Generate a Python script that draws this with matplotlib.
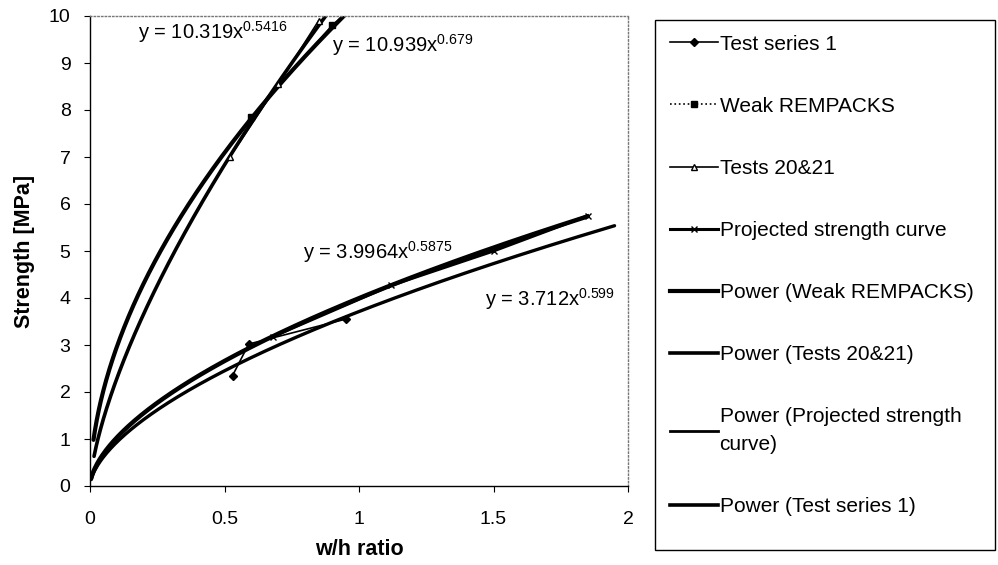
import numpy as np
import matplotlib
matplotlib.use('Agg')
import matplotlib.pyplot as plt
from matplotlib.lines import Line2D
from matplotlib.patches import Rectangle

plt.rcParams['font.family'] = ['Liberation Sans', 'DejaVu Sans']
plt.rcParams['mathtext.fontset'] = 'custom'
plt.rcParams['mathtext.rm'] = 'Liberation Sans'

# measured points
ts1_x = [0.53, 0.59, 0.95]
ts1_y = [2.35, 3.02, 3.55]
weak_x = [0.6, 0.9, 1.2]
weak_y = [7.85, 9.8, 11.3]
t2021_x = [0.52, 0.7, 0.85]
t2021_y = [7.0, 8.55, 9.9]
proj_x = [0.68, 1.12, 1.5, 1.85]
proj_y = [3.18, 4.27, 5.0, 5.75]

# power trend lines: coefficient, exponent, x start, x end
trend_weak = (10.319, 0.5416, 0.013, 1.0)
trend_2021 = (10.939, 0.679, 0.015, 1.0)
trend_proj = (3.9964, 0.5875, 0.004, 1.85)
trend_ts1 = (3.712, 0.599, 0.004, 1.95)

labels = ['Test series 1', 'Weak REMPACKS', 'Tests 20&21', 'Projected strength curve',
          'Power (Weak REMPACKS)', 'Power (Tests 20&21)',
          'Power (Projected strength\ncurve)', 'Power (Test series 1)']

fig = plt.figure(figsize=(9.98, 5.65), dpi=100)
ax = fig.add_axes([90 / 998, 1 - 486 / 565, 538 / 998, 470 / 565])

def trend(t, lw):
    a, b, x0, x1 = t
    x = np.linspace(x0, x1, 400)
    ax.plot(x, a * x ** b, color='black', lw=lw, solid_capstyle='round')

trend(trend_weak, 3.0)
trend(trend_2021, 2.6)
trend(trend_proj, 3.2)
trend(trend_ts1, 2.4)

ax.plot(ts1_x, ts1_y, color='black', lw=1.2, marker='D', ms=4.5)
ax.plot(weak_x, weak_y, color='black', lw=1.2, marker='s', ms=4.5)
ax.plot(t2021_x, t2021_y, color='black', lw=1.2, marker='^', ms=4.5, mfc='white')
ax.plot(proj_x, proj_y, color='black', lw=2.2, marker='x', ms=4.5)

fs = 14.5
ax.text(0.178, 9.66, 'y = 10.319x$^{0.5416}$', fontsize=fs, ha='left', va='center')
ax.text(0.90, 9.38, 'y = 10.939x$^{0.679}$', fontsize=fs, ha='left', va='center')
ax.text(0.79, 4.98, 'y = 3.9964x$^{0.5875}$', fontsize=fs, ha='left', va='center')
ax.text(1.47, 3.98, 'y = 3.712x$^{0.599}$', fontsize=fs, ha='left', va='center')

ax.set_xlim(0, 2)
ax.set_ylim(0, 10)
ax.set_xticks(np.arange(0, 2.01, 0.5))
ax.set_xticklabels(['0', '0.5', '1', '1.5', '2'])
ax.set_yticks(np.arange(0, 11, 1))
ax.tick_params(labelsize=14, direction='out', length=4, width=0.8)
ax.tick_params(axis='x', pad=14)
ax.tick_params(axis='y', pad=10)
ax.set_xlabel('w/h ratio', fontsize=15.5, fontweight='bold', labelpad=8)
ax.set_ylabel('Strength [MPa]', fontsize=15.5, fontweight='bold', labelpad=10)
for s in ['top', 'right']:
    ax.spines[s].set_color('#777777')
    ax.spines[s].set_linestyle(':')
    ax.spines[s].set_linewidth(1.0)
for s in ['left', 'bottom']:
    ax.spines[s].set_linewidth(1.0)

handles = [
    Line2D([], [], color='black', lw=1.2, marker='D', ms=4.5),
    Line2D([], [], color='black', lw=1.2, ls=':', marker='s', ms=4.5),
    Line2D([], [], color='black', lw=1.2, marker='^', ms=4.5, mfc='white'),
    Line2D([], [], color='black', lw=2.2, marker='x', ms=4.5),
    Line2D([], [], color='black', lw=3.0),
    Line2D([], [], color='black', lw=2.6),
    Line2D([], [], color='black', lw=2.0),
    Line2D([], [], color='black', lw=2.6),
]
leg = fig.legend(handles, labels, loc='upper left', bbox_to_anchor=(655 / 998, 1 - 20 / 565),
                 fontsize=15, frameon=False,
                 labelspacing=2.07, handlelength=2.3, handletextpad=0.1,
                 borderpad=0.7, borderaxespad=0)
leg.get_texts()[6].set_linespacing(1.6)
# legend box as drawn in the original (taller than the entries)
fig.patches.append(Rectangle((655 / 998, 1 - 550 / 565), 340 / 998, 530 / 565,
                             transform=fig.transFigure, fill=False, edgecolor='black', lw=1.0))

fig.savefig('out.png', dpi=100, facecolor='white')
